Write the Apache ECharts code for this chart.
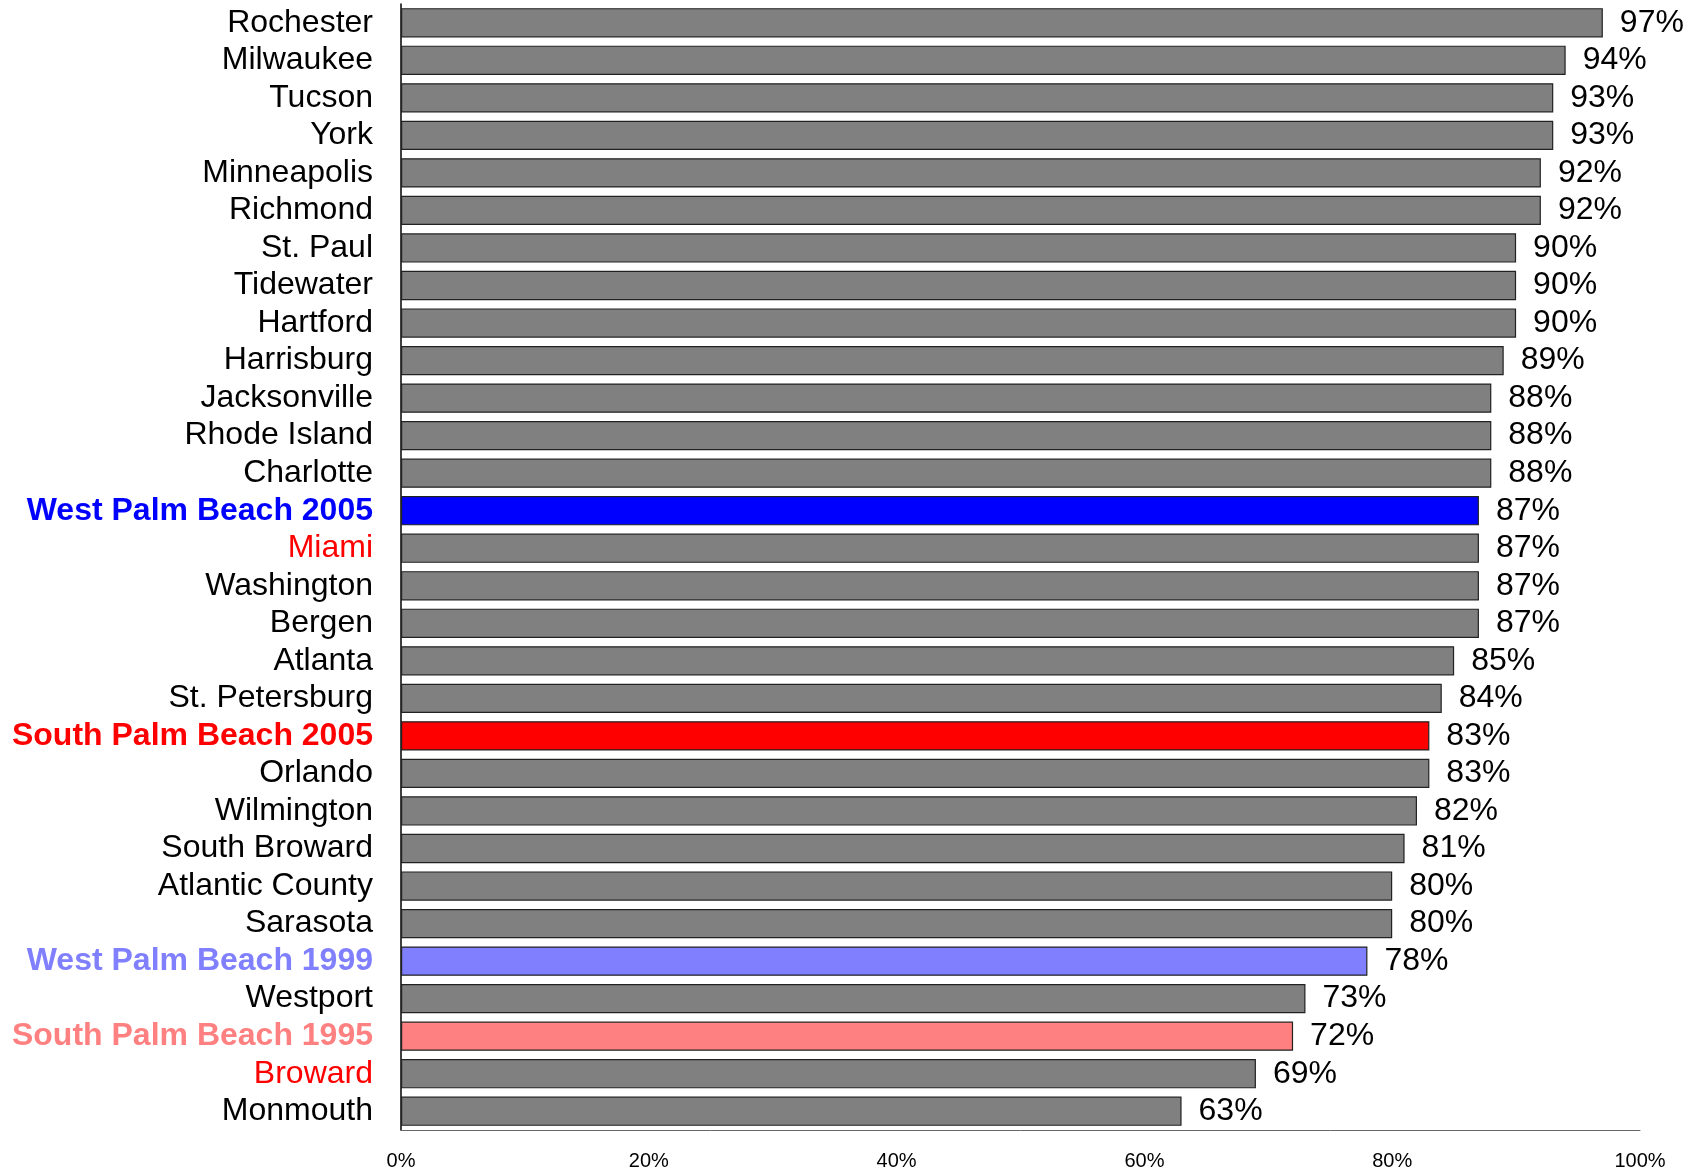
<!DOCTYPE html>
<html>
<head>
<meta charset="utf-8">
<script src="https://cdn.jsdelivr.net/npm/echarts@6/dist/echarts.min.js"></script>
<style>
  html, body { margin: 0; padding: 0; background: #fff; }
  #chart { width: 1699px; height: 1172px; }
</style>
</head>
<body>
<div id="chart"></div>
<script>
// data
const cities = [
  "Rochester", "Milwaukee", "Tucson", "York", "Minneapolis", "Richmond",
  "St. Paul", "Tidewater", "Hartford", "Harrisburg", "Jacksonville",
  "Rhode Island", "Charlotte", "West Palm Beach 2005", "Miami", "Washington",
  "Bergen", "Atlanta", "St. Petersburg", "South Palm Beach 2005", "Orlando",
  "Wilmington", "South Broward", "Atlantic County", "Sarasota",
  "West Palm Beach 1999", "Westport", "South Palm Beach 1995", "Broward", "Monmouth"
];
const values = [97, 94, 93, 93, 92, 92, 90, 90, 90, 89, 88, 88, 88, 87, 87, 87,
  87, 85, 84, 83, 83, 82, 81, 80, 80, 78, 73, 72, 69, 63];
const xTicks = [0, 20, 40, 60, 80, 100];

// highlighted rows (bar colour / label colour / bold)
const highlight = {
  "West Palm Beach 2005": { bar: "#0000ff", text: "#0000ff", bold: true },
  "South Palm Beach 2005": { bar: "#ff0000", text: "#ff0000", bold: true },
  "West Palm Beach 1999": { bar: "#8080ff", text: "#8080ff", bold: true },
  "South Palm Beach 1995": { bar: "#ff8080", text: "#ff8080", bold: true },
  "Miami": { text: "#ff0000" },
  "Broward": { text: "#ff0000" }
};

const font = "Liberation Sans, Arial, sans-serif";

let chart = echarts.init(document.getElementById("chart"));
chart.setOption({
  animation: false,
  grid: { left: 401, right: 59, top: 4, bottom: 42, containLabel: false },
  xAxis: {
    type: "value",
    min: xTicks[0],
    max: xTicks[xTicks.length - 1],
    interval: 20,
    axisLine: { show: true, lineStyle: { color: "#666", width: 1 } },
    axisTick: { show: false },
    splitLine: { show: false },
    axisLabel: {
      formatter: "{value}%",
      fontFamily: font,
      fontSize: 20,
      color: "#000",
      margin: 21
    }
  },
  yAxis: {
    type: "category",
    inverse: true,
    data: cities.map(c => {
      let h = highlight[c];
      if (!h) return c;
      return {
        value: c,
        textStyle: { color: h.text, fontWeight: h.bold ? "bold" : "normal" }
      };
    }),
    axisLine: { show: true, lineStyle: { color: "#000", width: 1.5 } },
    axisTick: { show: false },
    axisLabel: {
      interval: 0,
      fontFamily: font,
      fontSize: 32,
      color: "#000",
      margin: 28,
      padding: [9, 0, 0, 0]
    }
  },
  series: [
    {
      type: "bar",
      barCategoryGap: "22%",
      data: values.map((v, i) => {
        let h = highlight[cities[i]];
        return {
          value: v,
          itemStyle: { color: h && h.bar ? h.bar : "#808080" }
        };
      }),
      itemStyle: { borderColor: "#222", borderWidth: 1.2 },
      label: {
        show: true,
        position: "right",
        distance: 17,
        formatter: "{c}%",
        fontFamily: font,
        fontSize: 32,
        color: "#000",
        padding: [8, 0, 0, 0]
      }
    }
  ]
});
</script>
</body>
</html>
